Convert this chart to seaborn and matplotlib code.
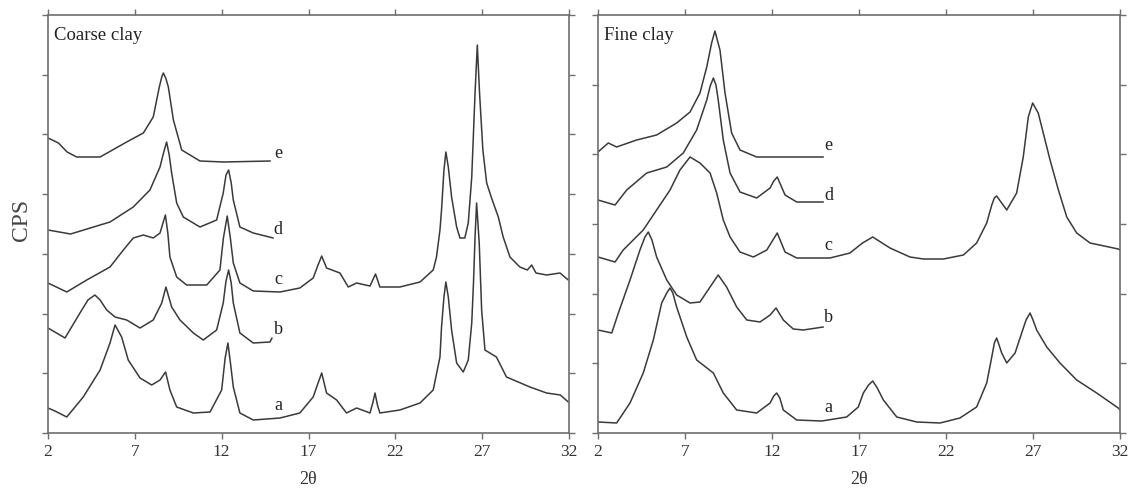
import matplotlib
matplotlib.use("Agg")
import matplotlib.pyplot as plt
import seaborn as sns
import pandas as pd

# ---------------- data (2θ, intensity with vertical offset, arbitrary CPS units) ----------------
coarse_a_x = [2.0, 2.4, 3.08, 4.03, 5.0, 5.57, 5.86, 6.24, 6.62, 7.3, 7.97, 8.45, 8.77, 9.02, 9.41, 10.37, 11.33,
              12.0, 12.2, 12.36, 12.52, 12.67, 13.05, 13.82, 15.36, 16.5, 17.27, 17.55, 17.76, 18.04, 18.62, 19.19,
              19.77, 20.54, 20.7, 20.83, 20.97, 21.11, 22.26, 23.42, 24.18, 24.57, 24.66, 24.8, 24.91, 25.05, 25.24,
              25.53, 25.91, 26.2, 26.4, 26.5, 26.59, 26.68, 26.83, 26.97, 27.16, 27.82, 28.4, 29.75, 30.71, 31.5,
              31.96]
coarse_a_y = [25, 22, 16, 36, 63, 90, 108, 96, 73, 55, 48, 53, 61, 43, 26, 20, 21,
              43, 75, 90, 68, 46, 20, 13, 15, 20, 36, 50, 60, 40, 33, 20,
              25, 20, 30, 40, 28, 20, 23, 30, 43, 76, 106, 136, 151, 136, 103,
              70, 61, 73, 110, 150, 196, 230, 190, 123, 83, 76, 56, 46, 40, 38,
              31]

coarse_b_x = [2.0, 2.98, 3.84, 4.3, 4.7, 5.0, 5.38, 5.86, 6.53, 7.3, 8.06, 8.55, 8.79, 9.12, 9.6, 10.37, 10.94,
              11.71, 12.09, 12.25, 12.4, 12.55, 12.67, 13.05, 13.82, 14.78, 14.9]
coarse_b_y = [105, 95, 120, 133, 138, 133, 123, 116, 113, 105, 113, 130, 146, 126, 113, 100, 93,
              103, 130, 152, 163, 150, 130, 100, 90, 91, 95]

coarse_c_x = [2.0, 3.08, 4.23, 5.57, 6.34, 6.91, 7.49, 8.06, 8.45, 8.62, 8.76, 8.9, 9.02, 9.41, 9.98, 11.14, 11.9,
              12.1, 12.32, 12.5, 12.67, 13.05, 13.82, 15.36, 16.5, 17.27, 17.55, 17.76, 18.04, 18.81, 19.29, 19.77,
              20.54, 20.86, 21.11, 22.26, 23.42, 24.18, 24.37, 24.57, 24.66, 24.8, 24.91, 25.05, 25.24, 25.53,
              25.72, 26.0, 26.2, 26.4, 26.59, 26.72, 26.85, 27.04, 27.26, 27.54, 27.93, 28.21, 28.6, 29.17, 29.6,
              29.85, 30.1, 30.71, 31.48, 31.96]
coarse_c_y = [150, 141, 153, 166, 183, 195, 198, 195, 200, 210, 218, 200, 176, 156, 148, 148, 163,
              195, 217, 195, 170, 150, 142, 141, 145, 155, 168, 177, 165, 160, 146, 150,
              147, 159, 146, 146, 151, 163, 176, 203, 223, 263, 281, 266, 236, 206,
              195, 195, 210, 256, 340, 388, 340, 283, 250, 235, 216, 196, 176, 166, 163,
              168, 160, 158, 160, 153]

coarse_d_x = [2.0, 3.3, 5.57, 6.91, 7.87, 8.45, 8.65, 8.83, 8.98, 9.12, 9.41, 9.79, 10.75, 11.71, 12.09, 12.25,
              12.4, 12.55, 12.67, 13.05, 13.82, 14.97]
coarse_d_y = [203, 199, 211, 226, 243, 266, 280, 291, 278, 260, 230, 216, 206, 213, 240, 258,
              263, 250, 233, 206, 200, 195]

coarse_e_x = [2.0, 2.6, 3.1, 3.65, 5.0, 6.53, 7.49, 8.06, 8.41, 8.55, 8.64, 8.78, 8.93, 9.22, 9.7, 10.75, 12.1, 14.8]
coarse_e_y = [295, 290, 281, 276, 276, 291, 300, 316, 346, 356, 360, 355, 346, 313, 283, 272, 271, 272]

fine_a_x = [2.0, 3.07, 3.84, 4.6, 5.18, 5.66, 5.95, 6.14, 6.3, 6.52, 7.1, 7.67, 8.63, 9.2, 9.97, 11.12, 11.89,
            12.1, 12.27, 12.45, 12.65, 13.42, 14.86, 16.29, 16.96, 17.25, 17.55, 17.79, 18.05, 18.4, 19.17, 20.32,
            21.66, 22.8, 23.76, 24.34, 24.63, 24.78, 24.91, 25.05, 25.2, 25.49, 25.97, 26.35, 26.6, 26.83, 27.0,
            27.21, 27.79, 28.55, 29.51, 30.66, 31.9, 32.0]
fine_a_y = [11, 10, 30, 60, 93, 130, 140, 145, 140, 126, 96, 73, 60, 40, 23, 20, 30,
            37, 40, 35, 23, 13, 12, 16, 26, 40, 48, 52, 45, 33, 16, 11,
            10, 15, 26, 50, 76, 90, 95, 88, 80, 70, 80, 100, 113, 120, 113,
            103, 86, 70, 53, 40, 25, 23]

fine_b_x = [2.0, 2.79, 3.17, 3.84, 4.41, 4.7, 4.89, 5.1, 5.37, 5.95, 6.52, 7.29, 7.86, 8.44, 8.91, 9.39, 9.97,
            10.55, 11.31, 11.89, 12.23, 12.65, 13.22, 13.8, 14.95]
fine_b_y = [103, 100, 120, 153, 183, 196, 201, 193, 176, 153, 138, 130, 131, 146, 158, 146, 126,
            113, 111, 118, 125, 113, 104, 103, 106]

fine_c_x = [2.0, 2.98, 3.45, 4.6, 5.37, 6.14, 6.71, 7.29, 7.86, 8.44, 8.82, 9.2, 9.59, 10.16, 10.93, 11.7, 12.3,
            12.75, 13.42, 15.33, 16.48, 17.2, 17.79, 18.78, 19.93, 20.7, 21.85, 23.0, 23.76, 24.34, 24.63, 24.78,
            24.91, 25.2, 25.49, 26.06, 26.44, 26.73, 26.98, 27.3, 27.59, 27.98, 28.46, 28.94, 29.51, 30.28, 31.9,
            32.0]
fine_c_y = [176, 171, 183, 203, 223, 243, 263, 276, 270, 260, 240, 213, 196, 181, 176, 183, 200,
            181, 175, 175, 180, 190, 196, 185, 176, 174, 174, 178, 190, 210, 228, 235,
            237, 230, 223, 240, 276, 316, 330, 320, 300, 273, 243, 216, 200, 190, 184,
            183]

fine_d_x = [2.0, 2.98, 3.65, 4.8, 5.95, 6.9, 7.67, 8.25, 8.45, 8.63, 8.78, 8.91, 9.2, 9.59, 10.16, 11.12, 11.89,
            12.1, 12.3, 12.5, 12.75, 13.42, 14.95]
fine_d_y = [233, 228, 243, 260, 266, 280, 303, 333, 347, 355, 348, 333, 293, 260, 241, 235, 245,
            252, 256, 248, 238, 231, 231]

fine_e_x = [2.0, 2.59, 3.07, 4.22, 5.37, 6.52, 7.29, 7.86, 8.25, 8.53, 8.72, 9.01, 9.3, 9.68, 10.16, 11.12, 14.95]
fine_e_y = [281, 290, 286, 293, 298, 310, 321, 340, 366, 390, 402, 383, 340, 300, 283, 276, 276]

sample_names = ["a", "b", "c", "d", "e"]
coarse_label_y = [27, 104, 153, 204, 280]
fine_label_y = [26, 115, 188, 238, 287]
x_ticks = [2, 7, 12, 17, 22, 27, 32]

coarse = {"a": (coarse_a_x, coarse_a_y), "b": (coarse_b_x, coarse_b_y), "c": (coarse_c_x, coarse_c_y),
          "d": (coarse_d_x, coarse_d_y), "e": (coarse_e_x, coarse_e_y)}
fine = {"a": (fine_a_x, fine_a_y), "b": (fine_b_x, fine_b_y), "c": (fine_c_x, fine_c_y),
        "d": (fine_d_x, fine_d_y), "e": (fine_e_x, fine_e_y)}

# ---------------- style ----------------
sns.set_theme(style="ticks")
plt.rcParams["font.family"] = ["Liberation Serif", "DejaVu Serif"]

fig = plt.figure(figsize=(11.38, 4.91), dpi=100)
ax1 = fig.add_axes([48 / 1138, 58 / 491, 521 / 1138, 418 / 491])
ax2 = fig.add_axes([598 / 1138, 58 / 491, 522 / 1138, 418 / 491])

line_color = "#3a3a3a"
spine_color = "#6e6e6e"


def draw(ax, data, label_y, title, ntick):
    for name in sample_names:
        xs, ys = data[name]
        df = pd.DataFrame({"two_theta": xs, "cps": ys})
        sns.lineplot(data=df, x="two_theta", y="cps", ax=ax, color=line_color, linewidth=1.1,
                     sort=False, estimator=None)
    for name, ly in zip(sample_names, label_y):
        ax.text(15.25, ly, name, ha="center", va="center", fontsize=13, color="#222222")
    ax.set_xlim(2, 32)
    ax.set_ylim(0, 418)
    ax.set_xticks(x_ticks)
    ax.set_xticklabels([str(t) for t in x_ticks], fontsize=12.5, color="#333333")
    ax.set_yticks([418 / ntick * i for i in range(ntick + 1)])
    ax.set_yticklabels([])
    ax.tick_params(axis="both", which="both", direction="out", length=4, width=1, color=spine_color,
                   top=True, right=True, labeltop=False, labelright=False, pad=4)
    for sp in ax.spines.values():
        sp.set_visible(True)
        sp.set_color(spine_color)
        sp.set_linewidth(1.2)
    ax.set_xlabel("2θ", fontsize=13, color="#333333", labelpad=8)
    ax.set_ylabel("")
    ax.text(0.012, 0.952, title, transform=ax.transAxes, ha="left", va="center", fontsize=13.5,
            color="#222222")


draw(ax1, coarse, coarse_label_y, "Coarse clay", 7)
draw(ax2, fine, fine_label_y, "Fine clay", 6)

ax1.set_ylabel("CPS", fontsize=17, color="#444444")
ax1.yaxis.set_label_coords(-0.03, 0.51)

fig.savefig("out.png", dpi=100)
